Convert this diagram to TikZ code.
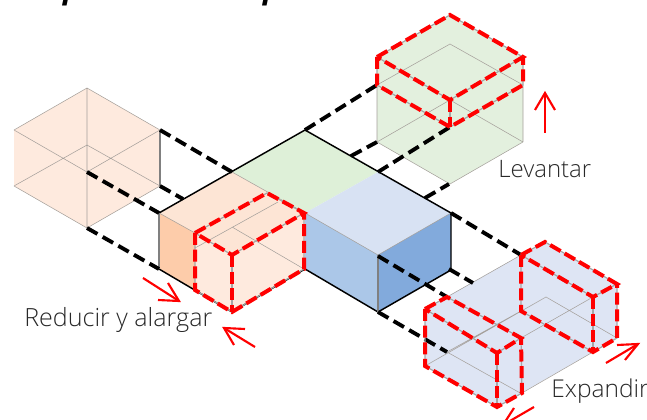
\documentclass[tikz,border=0pt]{standalone}
\usepackage{fontspec}
\setmainfont{Open Sans}
\newfontfamily\lightfont{Open Sans Light}
\definecolor{txt}{RGB}{40,40,40}
\definecolor{org}{RGB}{254,234,222}
\definecolor{orgb}{RGB}{253,229,213}
\definecolor{orgd}{RGB}{253,204,170}
\definecolor{grn}{RGB}{222,240,216}
\definecolor{grng}{RGB}{227,240,222}
\definecolor{blu}{RGB}{216,226,243}
\definecolor{blug}{RGB}{222,229,244}
\definecolor{blum}{RGB}{171,199,232}
\definecolor{blud}{RGB}{130,170,220}
\definecolor{thin}{RGB}{165,160,155}
\tikzset{
 x=0.75pt,y=-0.75pt,
 thinl/.style={draw=thin,line width=0.4pt},
 solid edge/.style={draw=black,line width=1.1pt},
 blk/.style={draw=black,line width=2.9pt,dash pattern=on 9pt off 4.5pt},
 redl/.style={preaction={draw=black!35,line width=0.9pt,solid},draw=red,line width=3pt,dash pattern=on 9pt off 3.5pt,line join=miter},
 arrw/.style={draw=red,line width=1.6pt},
 lab/.style={inner sep=0pt,anchor=base west,text=txt,font=\lightfont\fontsize{18}{20}\selectfont},
}
\begin{document}
\begin{tikzpicture}
\useasboundingbox (0,0) rectangle (647,420);
\clip (0,0) rectangle (647,420);
% title
\node[inner sep=0pt,anchor=base west,text=black,font=\fontsize{23.4}{26}\selectfont\bfseries\itshape] (ttl) at (22,-1) {Esquema de adaptación};
% orange ghost
\fill[org] (14,130)--(87,88)--(160,130)--(160,186)--(87,228)--(14,186)--cycle;
\draw[thinl] (14,130)--(87,88)--(160,130) (14,186)--(87,228)--(160,186)
 (87,88)--(87,228) (14,130)--(87,172)--(160,130) (14,186)--(87,145)--(160,186);
\draw[draw=gray,line width=0.8pt] (160,130)--(160,186);
% green ghost
\fill[grng] (377,57)--(450,15)--(523,57)--(523,142)--(450,184)--(377,142)--cycle;
\draw[thinl] (377,85)--(450,44)--(523,85) (377,142)--(450,100)--(523,142)
 (377,85)--(377,142) (523,85)--(523,142) (377,142)--(450,184)--(523,142);
% blue ghost
\fill[blug] (425,309)--(521,255)--(545,242)--(617,284)--(617,338)--(497,407)--(425,366)--cycle;
\draw[thinl] (425,366)--(546,297)--(617,338) (447,352)--(521,311) (593,297)--(521,338) (447,352)--(522,394)
 (447,297)--(521,255) (522,393)--(593,352);
% central block
\fill[grn] (232,172)--(305,130)--(378,172)--(305,213)--cycle;
\fill[blu] (305,213)--(378,172)--(451,213)--(378,255)--cycle;
\fill[orgb] (159,213)--(232,172)--(305,213)--(232,255)--cycle;
\fill[org] (195,233)--(232,255)--(305,213)--(305,269)--(232,312)--(195,290)--cycle;
\fill[orgd] (159,213)--(195,233)--(195,290)--(159,269)--cycle;
\fill[blum] (305,213)--(378,255)--(378,312)--(305,269)--cycle;
\fill[blud] (378,255)--(451,213)--(451,270)--(378,312)--cycle;
\draw[thinl] (159,213)--(195,233) (232,172)--(305,213)
 (195,248)--(278,202) (232,227)--(304,269) (305,213)--(378,255)--(451,213);
\draw[solid edge] (159,213)--(305,130)--(451,213)--(451,270)--(378,312)--(305,269)--(232,312)--(159,269)--cycle;
\draw[draw=gray,line width=0.8pt] (159,213)--(159,269) (378,255)--(378,312);
% dashed black
\draw[blk] (160,130)--(232,172);
\draw[blk] (160,186)--(183,199);
\draw[blk] (87,172)--(159,213);
\draw[blk] (87,228)--(159,269);
\draw[blk] (305,130)--(377,85);
\draw[blk] (351,156)--(377,142);
\draw[blk] (378,172)--(450,127);
\draw[blk] (425,198)--(449,184);
\draw[blk] (451,213)--(521,255);
\draw[blk] (449,269)--(473,283);
\draw[blk] (378,256)--(447,297);
\draw[blk] (378,312)--(447,352);
% red dashed: green
\draw[redl] (377,57)--(450,15)--(523,57)--(450,100)--cycle;
\draw[redl] (377,57)--(377,85)--(450,127)--(523,85)--(523,57);
\draw[redl] (450,100)--(450,127);
% red dashed: orange
\draw[redl] (195,233)--(267,193)--(304,213)--(232,255)--cycle;
\draw[redl] (195,233)--(195,290)--(232,312)--(304,269)--(304,213);
\draw[redl] (232,255)--(232,312);
% red dashed: blue left
\draw[redl] (425,309)--(447,297)--(521,338)--(497,353)--cycle;
\draw[redl] (425,309)--(425,366)--(497,407)--(522,393)--(521,338);
\draw[redl] (497,353)--(497,407);
% red dashed: blue right
\draw[redl] (521,255)--(545,242)--(617,284)--(593,297)--cycle;
\draw[redl] (521,255)--(521,311)--(593,352)--(617,338)--(617,284);
\draw[redl] (593,297)--(593,352);
% arrows
\draw[arrw] (545,133)--(545,93);
\draw[arrw] (535,110)--(545,93)--(555,110);
\draw[arrw] (143,278)--(179,301);
\draw[arrw] (168,283)--(179,301)--(158,300);
\draw[arrw] (255,347)--(224,328);
\draw[arrw] (245,329)--(224,328)--(234,345);
\draw[arrw] (606,363)--(638,344);
\draw[arrw] (617,345)--(638,344)--(625,360);
\draw[arrw] (534,407)--(503,425);
\draw[arrw] (524,423)--(503,425)--(514,408);
% labels
\node[lab] (lev) at (498,178) {Levantar};
\node[lab,font=\lightfont\fontsize{18.8}{20}\selectfont] (red) at (24,327) {Reducir y alargar};
\node[lab,font=\lightfont\fontsize{18.4}{20}\selectfont] (exp) at (551,398) {Expandir};
\end{tikzpicture}
\end{document}
